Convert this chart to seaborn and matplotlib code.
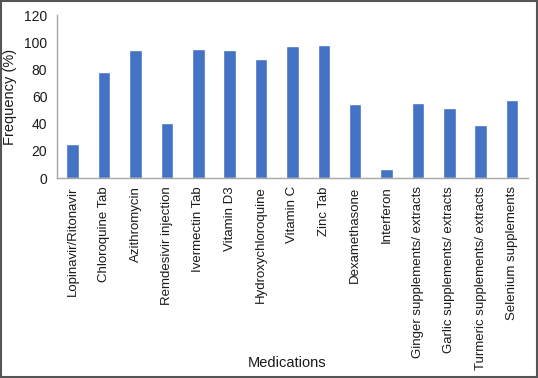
import pandas as pd
import matplotlib
matplotlib.use("Agg")
import matplotlib.pyplot as plt
import seaborn as sns

# values
medications = [
    "Lopinavir/Ritonavir", "Chloroquine Tab", "Azithromycin", "Remdesivir injection",
    "Ivermectin Tab", "Vitamin D3", "Hydroxychloroquine", "Vitamin C", "Zinc Tab",
    "Dexamethasone", "Interferon", "Ginger supplements/ extracts",
    "Garlic supplements/ extracts", "Turmeric supplements/ extracts", "Selenium supplements",
]
frequency = [25, 78.3, 94.3, 40.5, 94.7, 94, 87.9, 97.2, 98, 54.2, 6.9, 55, 51.3, 39.3, 57.2]
y_ticks = [0, 20, 40, 60, 80, 100, 120]

df = pd.DataFrame({"Medication": medications, "Frequency": frequency})

sns.set_style("white")
plt.rcParams["font.family"] = ["Liberation Sans", "DejaVu Sans"]

fig = plt.figure(figsize=(5.38, 3.78), dpi=100)
ax = fig.add_axes([0.106, 0.529, 0.875, 0.431])

sns.barplot(data=df, x="Medication", y="Frequency", color="#4472C4",
            saturation=1, width=0.4, ax=ax)

ax.set_ylim(0, 120)
ax.set_yticks(y_ticks)
ax.set_xlim(-0.5, len(medications) - 0.5)
ax.tick_params(axis="both", length=0, colors="#1a1a1a")
ax.tick_params(axis="x", rotation=90, pad=6, labelsize=9.5)
ax.tick_params(axis="y", pad=7, labelsize=10)

for s in ["top", "right"]:
    ax.spines[s].set_visible(False)
for s in ["left", "bottom"]:
    ax.spines[s].set_color("#A6A6A6")
    ax.spines[s].set_linewidth(1)

ax.set_ylabel("Frequency (%)", fontsize=10.5, color="#1a1a1a")
ax.yaxis.set_label_coords(-0.085, 0.5)
ax.set_xlabel("")
fig.text(0.533, 0.04, "Medications", ha="center", va="center",
         fontsize=10.5, color="#1a1a1a")

# dark frame round the whole picture
fig.patches.append(plt.Rectangle((0.001, 0.002), 0.997, 0.995, transform=fig.transFigure,
                                 fill=False, edgecolor="#555555", linewidth=1.5))

fig.savefig("out.png", dpi=100)
